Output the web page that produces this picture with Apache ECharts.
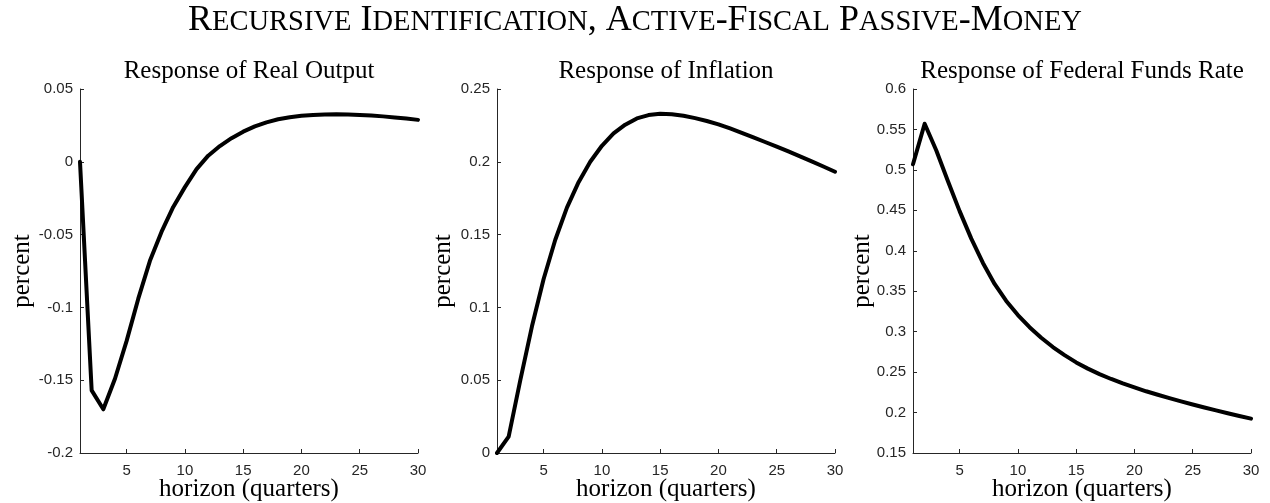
<!DOCTYPE html>
<html><head><meta charset="utf-8">
<script src="https://cdn.jsdelivr.net/npm/echarts@6/dist/echarts.min.js"></script>
<style>html,body{margin:0;padding:0;background:#fff}#c{width:1270px;height:503px}</style>
</head><body><div id="c"></div>
<script>
const horizon = [1,2,3,4,5,6,7,8,9,10,11,12,13,14,15,16,17,18,19,20,21,22,23,24,25,26,27,28,29,30];
const xTickValues = [5,10,15,20,25,30];
const mainTitle = 'Recursive Identification, Active-Fiscal Passive-Money';
const panelTitles = ['Response of Real Output', 'Response of Inflation', 'Response of Federal Funds Rate'];
const yAxisName = 'percent';
const xAxisName = 'horizon (quarters)';
const yRanges = [[-0.2, 0.05], [0, 0.25], [0.15, 0.6]];
const realOutput = [0, -0.157, -0.170, -0.149, -0.123, -0.094, -0.068, -0.048, -0.031, -0.0174,
  -0.005, 0.0042, 0.0108, 0.0162, 0.0207, 0.0243, 0.0271, 0.0292, 0.0306, 0.0316,
  0.0322, 0.0325, 0.0326, 0.0325, 0.0322, 0.0318, 0.0312, 0.0305, 0.0297, 0.0288];
const inflation = [0, 0.0112, 0.050, 0.087, 0.1195, 0.1465, 0.1685, 0.186, 0.200, 0.211,
  0.2195, 0.2255, 0.2298, 0.2321, 0.2330, 0.2327, 0.2316, 0.2300, 0.2280, 0.2257,
  0.2229, 0.2199, 0.2168, 0.2136, 0.2104, 0.2071, 0.2037, 0.2003, 0.1968, 0.1932];
const fedFunds = [0.507, 0.557, 0.524, 0.486, 0.449, 0.415, 0.385, 0.359, 0.338, 0.3205,
  0.3055, 0.2925, 0.281, 0.271, 0.262, 0.2543, 0.2475, 0.2415, 0.236, 0.231,
  0.2263, 0.222, 0.2178, 0.2138, 0.21, 0.2063, 0.2027, 0.1992, 0.1958, 0.1925];
const seriesValues = [realOutput, inflation, fedFunds];

const gridLefts = [80, 497, 913];
const gridWidth = 338;
const gridTop = 89, gridHeight = 364;
const yNameX = [22, 443, 862];
const axisColor = '#262626';
const serif = '"Liberation Serif", serif';
const sans = '"Liberation Sans", Arial';

function smallCapsRich(text) {
  let out = '';
  let cur = null, buf = '';
  const flush = () => { if (buf) out += '{' + cur + '|' + buf + '}'; buf = ''; };
  for (const ch of text) {
    const isLower = ch >= 'a' && ch <= 'z';
    const st = isLower ? 'sc' : 'cap';
    if (st !== cur) { flush(); cur = st; }
    buf += isLower ? ch.toUpperCase() : ch;
  }
  flush();
  return out;
}

const grids = [], xAxes = [], yAxes = [], series = [], graphics = [];
for (let i = 0; i < 3; i++) {
  grids.push({ left: gridLefts[i], width: gridWidth, top: gridTop, height: gridHeight, containLabel: false });
  xAxes.push({
    type: 'value', gridIndex: i, min: 1, max: 30,
    axisLine: { show: true, onZero: false, lineStyle: { color: axisColor, width: 1 } },
    axisTick: { show: true, inside: true, length: 4, customValues: xTickValues, lineStyle: { color: axisColor } },
    axisLabel: { customValues: xTickValues, color: axisColor, fontFamily: sans, fontSize: 15, margin: 10 },
    splitLine: { show: false }
  });
  yAxes.push({
    type: 'value', gridIndex: i, min: yRanges[i][0], max: yRanges[i][1], interval: 0.05,
    axisLine: { show: true, onZero: false, lineStyle: { color: axisColor, width: 1 } },
    axisTick: { show: true, inside: true, length: 4, lineStyle: { color: axisColor } },
    axisLabel: { color: axisColor, fontFamily: sans, fontSize: 15, margin: 7,
      formatter: v => String(+(+v).toFixed(4)) },
    splitLine: { show: false }
  });
  series.push({
    type: 'line', xAxisIndex: i, yAxisIndex: i, showSymbol: false, symbol: 'none',
    lineStyle: { color: '#000', width: 4, join: 'round', cap: 'round' },
    data: horizon.map((h, k) => [h, seriesValues[i][k]]),
    animation: false
  });
  const cx = gridLefts[i] + gridWidth / 2;
  graphics.push({ type: 'text', x: cx, y: 71, style: { text: panelTitles[i], font: '25px ' + serif, fill: '#000', align: 'center', verticalAlign: 'middle' } });
  graphics.push({ type: 'text', x: cx, y: 489, style: { text: xAxisName, font: '25px ' + serif, fill: '#000', align: 'center', verticalAlign: 'middle' } });
  graphics.push({ type: 'text', x: yNameX[i], y: 271, rotation: Math.PI / 2, style: { text: yAxisName, font: '25px ' + serif, fill: '#000', align: 'center', verticalAlign: 'middle' } });
}
graphics.push({
  type: 'text', x: 635, y: 21,
  style: {
    text: smallCapsRich(mainTitle), align: 'center', verticalAlign: 'middle', fill: '#000',
    rich: {
      cap: { fontFamily: serif, fontSize: 36, verticalAlign: 'bottom', fill: '#000' },
      sc: { fontFamily: serif, fontSize: 28.5, verticalAlign: 'bottom', fill: '#000', padding: [0, 0, 1.5, 0] }
    }
  }
});

const chart = echarts.init(document.getElementById('c'), null, { renderer: 'canvas' });
chart.setOption({
  animation: false,
  backgroundColor: '#fff',
  grid: grids, xAxis: xAxes, yAxis: yAxes, series: series, graphic: graphics
});
</script></body></html>
